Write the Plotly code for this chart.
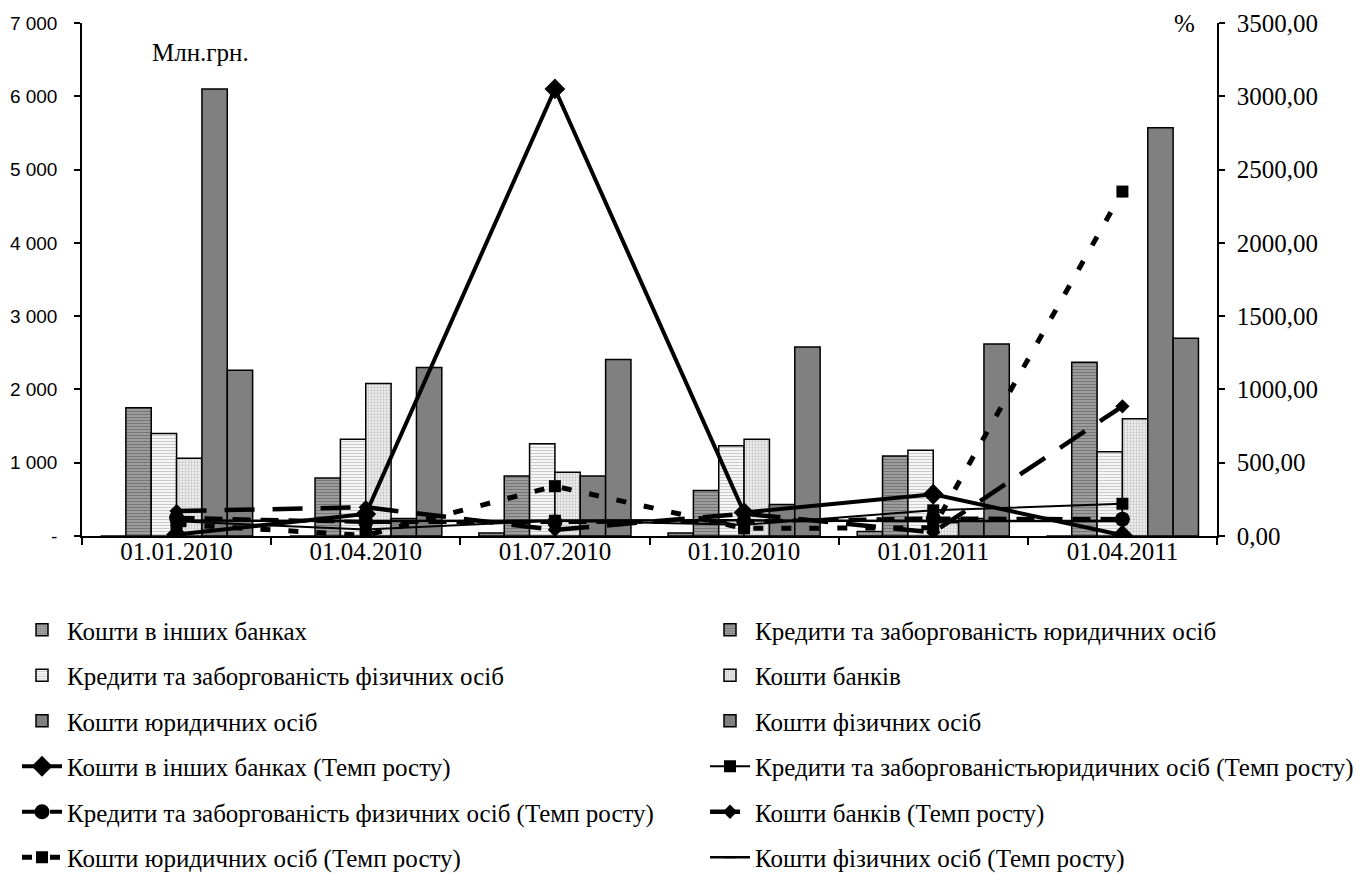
import plotly.graph_objects as go

dates = ["01.01.2010", "01.04.2010", "01.07.2010", "01.10.2010", "01.01.2011", "01.04.2011"]

bar_names = [
    "Кошти в інших банках",
    "Кредити та заборгованість юридичних осіб",
    "Кредити та заборгованість фізичних осіб",
    "Кошти банків",
    "Кошти юридичних осіб",
    "Кошти фізичних осіб",
]
banks_other = [0, 0, 40, 40, 60, 0]
credit_legal = [1750, 790, 820, 620, 1090, 2370]
credit_ind = [1400, 1320, 1260, 1230, 1170, 1150]
banks_funds = [1060, 2080, 870, 1320, 180, 1600]
legal_funds = [6100, 240, 820, 430, 240, 5570]
ind_funds = [2260, 2300, 2410, 2580, 2620, 2700]

line_names = [
    "Кошти в інших банках (Темп росту)",
    "Кредити та заборгованістьюридичних осіб (Темп росту)",
    "Кредити та заборгованість физичних осіб (Темп росту)",
    "Кошти банків (Темп росту)",
    "Кошти юридичних осіб (Темп росту)",
    "Кошти фізичних осіб (Темп росту)",
]
g_banks_other = [10, 150, 3050, 160, 285, 5]
g_credit_legal = [100, 45, 104, 76, 175, 220]
g_credit_ind = [125, 95, 95, 100, 120, 115]
g_banks_funds = [170, 196, 42, 152, 25, 885]
g_legal_funds = [80, 4, 340, 52, 56, 2350]
g_ind_funds = [105, 102, 105, 107, 102, 103]

left_ticks = [0, 1000, 2000, 3000, 4000, 5000, 6000, 7000]
left_labels = ["-", "1 000", "2 000", "3 000", "4 000", "5 000", "6 000", "7 000"]
right_ticks = [0, 500, 1000, 1500, 2000, 2500, 3000, 3500]
right_labels = ["0,00", "500,00", "1000,00", "1500,00", "2000,00", "2500,00", "3000,00", "3500,00"]

SERIF = "Liberation Serif"
SANS = "Liberation Sans"

# figure geometry (page has an 8px body margin)
W, H = 1354, 868
ML, MR, MT, MB = 74, 145, 15, 340

bar_series = [banks_other, credit_legal, credit_ind, banks_funds, legal_funds, ind_funds]
bar_patterns = [
    dict(shape=".", fgcolor="#555555", bgcolor="#b0b0b0", size=3, solidity=0.5),
    dict(shape="-", fgcolor="#444444", bgcolor="#a8a8a8", size=3, solidity=0.5),
    dict(shape="-", fgcolor="#a0a0a0", bgcolor="#f6f6f6", size=3, solidity=0.35),
    dict(shape=".", fgcolor="#999999", bgcolor="#f2f2f2", size=3, solidity=0.45),
    None,
    None,
]

fig = go.Figure()

for i, (name, vals, pat) in enumerate(zip(bar_names, bar_series, bar_patterns)):
    marker = dict(color="#808080", line=dict(color="black", width=1.5))
    if pat is not None:
        marker["pattern"] = pat
    fig.add_trace(go.Bar(
        x=dates, y=vals, name=name, marker=marker,
        legend="legend" if i % 2 == 0 else "legend2",
        legendgroup=name,
    ))

line_series = [g_banks_other, g_credit_legal, g_credit_ind, g_banks_funds, g_legal_funds, g_ind_funds]
line_styles = [
    dict(line=dict(color="black", width=4), marker=dict(symbol="diamond", size=16, color="black")),
    dict(line=dict(color="black", width=2), marker=dict(symbol="square", size=12, color="black")),
    dict(line=dict(color="black", width=4, dash="18px,10px"), marker=dict(symbol="circle", size=15, color="black")),
    dict(line=dict(color="black", width=4.5, dash="30px,18px"), marker=dict(symbol="diamond", size=11, color="black")),
    dict(line=dict(color="black", width=5, dash="10px,18px"), marker=dict(symbol="square", size=12, color="black")),
    dict(line=dict(color="black", width=2.5), marker=dict(symbol="line-ew", size=8, color="black", line=dict(width=2, color="black"))),
]

for i, (name, vals, st) in enumerate(zip(line_names, line_series, line_styles)):
    fig.add_trace(go.Scatter(
        x=dates, y=vals, name=name, mode="lines+markers", yaxis="y2",
        line=st["line"], marker=st["marker"],
        legend="legend" if i % 2 == 0 else "legend2",
        legendgroup=name,
    ))

legend_common = dict(
    orientation="v", yref="container", xref="container", yanchor="top", xanchor="left",
    font=dict(family=SERIF, size=25, color="black"), bgcolor="rgba(0,0,0,0)",
    tracegroupgap=10, itemwidth=40, traceorder="grouped",
)

tick_font_serif = dict(family=SERIF, size=25, color="black")

fig.update_layout(
    width=W, height=H,
    margin=dict(l=ML, r=MR, t=MT, b=MB, autoexpand=False),
    paper_bgcolor="white", plot_bgcolor="white",
    barmode="group", bargap=0.196, bargroupgap=0,
    showlegend=True,
    legend=dict(x=9 / W, y=1 - 599 / H, **legend_common),
    legend2=dict(x=697 / W, y=1 - 599 / H, **legend_common),
    xaxis=dict(
        type="category", showline=True, linecolor="black", linewidth=1.5,
        ticks="outside", tickson="boundaries", ticklen=7, tickcolor="black", tickwidth=1.5,
        tickfont=tick_font_serif, showgrid=False, tickangle=0,
        ticklabelstandoff=-8,
    ),
    xaxis2=dict(
        overlaying="x", range=[-0.5, 5.5], tickvals=[-0.5, 0.5, 1.5, 2.5, 3.5, 4.5, 5.5],
        ticks="inside", ticklen=6, tickcolor="black", tickwidth=1.5,
        showticklabels=False, showline=False, showgrid=False, zeroline=False, side="bottom",
    ),
    yaxis=dict(
        range=[0, 7000], tickvals=left_ticks, ticktext=left_labels,
        showline=True, linecolor="black", linewidth=1.5,
        ticks="outside", ticklen=6, tickcolor="black", tickwidth=1.5,
        tickfont=dict(family=SANS, size=19, color="black"), showgrid=False, zeroline=False,
        ticklabelstandoff=13,
    ),
    yaxis3=dict(
        overlaying="y", side="left", range=[0, 7000], tickvals=left_ticks,
        ticks="inside", ticklen=6, tickcolor="black", tickwidth=1.5,
        showticklabels=False, showline=False, showgrid=False, zeroline=False,
    ),
    yaxis2=dict(
        range=[0, 3500], tickvals=right_ticks, ticktext=right_labels,
        overlaying="y", side="right",
        showline=True, linecolor="black", linewidth=1.5,
        ticks="outside", ticklen=6, tickcolor="black", tickwidth=1.5,
        tickfont=tick_font_serif, showgrid=False, zeroline=False,
        ticklabelstandoff=7,
    ),
    yaxis4=dict(
        overlaying="y", side="right", range=[0, 3500], tickvals=right_ticks,
        ticks="inside", ticklen=6, tickcolor="black", tickwidth=1.5,
        showticklabels=False, showline=False, showgrid=False, zeroline=False,
    ),
    annotations=[
        dict(text="Млн.грн.", xref="paper", yref="paper",
             x=(200 - 82) / (W - ML - MR), y=1 - (52 - 23) / (H - MT - MB),
             showarrow=False, font=tick_font_serif, xanchor="center", yanchor="middle"),
        dict(text="%", xref="paper", yref="paper",
             x=(1184 - 82) / (W - ML - MR), y=1.0,
             showarrow=False, font=tick_font_serif, xanchor="center", yanchor="middle"),
    ],
)

fig.write_html("out.html")
